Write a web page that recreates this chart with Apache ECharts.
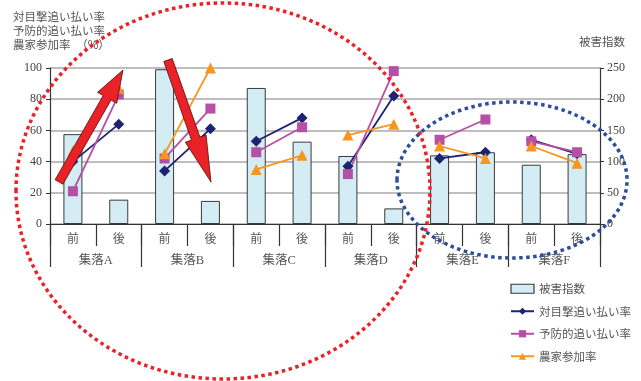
<!DOCTYPE html>
<html>
<head>
<meta charset="utf-8">
<script src="https://cdn.jsdelivr.net/npm/echarts@6/dist/echarts.min.js"></script>
<style>
  html, body { margin: 0; padding: 0; background: #fff; }
  #chart { width: 641px; height: 381px; }
</style>
</head>
<body>
<div id="chart"></div>
<script>
// Before/after pairs for each village
const categories = ['前', '後', '前', '後', '前', '後', '前', '後', '前', '後', '前', '後'];
const villages = ['集落A', '集落B', '集落C', '集落D', '集落E', '集落F'];

// Damage index (right axis, 0-250)
const damageIndex = [144, 39, 248, 37, 218, 132, 109, 25, 110, 115, 95, 112];
// Rates in % (left axis, 0-100)
const sightingRate = [40, 64, 34, 61, 53, 68, 37, 82, 42, 46, 54, 45];
const preventiveRate = [21, 83, 42, 74, 46, 62, 32, 98, 54, 67, 53, 46];
const participationRate = [47, 87, 45, 100, 35, 44, 57, 64, 50, 42, 50, 39];

const leftTicks = [0, 20, 40, 60, 80, 100];
const rightTicks = [0, 50, 100, 150, 200, 250];

const FONT = '"Liberation Serif", "Noto Sans CJK JP", serif';
const TEXT = '#555';
const AXIS = '#333';

const rateSeries = [
  { name: '対目撃追い払い率', values: sightingRate, color: '#1f2272', symbol: 'diamond', size: 11 },
  { name: '予防的追い払い率', values: preventiveRate, color: '#b64fa6', symbol: 'rect', size: 10 },
  { name: '農家参加率', values: participationRate, color: '#f7961c', symbol: 'triangle', size: 11 }
];

// one short segment per village so the before/after pairs stay separate
const series = [{
  name: '被害指数',
  type: 'bar',
  yAxisIndex: 1,
  barWidth: 19,
  data: damageIndex,
  itemStyle: { color: '#d4ecf3', borderColor: '#3a3a3a', borderWidth: 1 },
  z: 2
}];
rateSeries.forEach(function (s) {
  villages.forEach(function (v, i) {
    const data = categories.map(function (c, k) {
      return (k === 2 * i || k === 2 * i + 1) ? s.values[k] : null;
    });
    series.push({
      name: s.name,
      type: 'line',
      yAxisIndex: 0,
      data: data,
      symbol: s.symbol,
      symbolSize: s.size,
      connectNulls: false,
      lineStyle: { color: s.color, width: 1.8 },
      itemStyle: { color: s.color },
      z: 3
    });
  });
});

// filled arrow outline from tail to tip
function arrowPoints(x0, y0, x1, y1, shaftHalf, headHalf, headLen) {
  const dx = x1 - x0, dy = y1 - y0;
  const len = Math.sqrt(dx * dx + dy * dy);
  const ux = dx / len, uy = dy / len;
  const nx = -uy, ny = ux;
  const bx = x1 - ux * headLen, by = y1 - uy * headLen;
  return [
    [x0 + nx * shaftHalf, y0 + ny * shaftHalf],
    [bx + nx * shaftHalf, by + ny * shaftHalf],
    [bx + nx * headHalf, by + ny * headHalf],
    [x1, y1],
    [bx - nx * headHalf, by - ny * headHalf],
    [bx - nx * shaftHalf, by - ny * shaftHalf],
    [x0 - nx * shaftHalf, y0 - ny * shaftHalf]
  ];
}

const chart = echarts.init(document.getElementById('chart'), null, { renderer: 'canvas' });
chart.setOption({
  animation: false,
  backgroundColor: '#fff',
  textStyle: { fontFamily: FONT },
  grid: { left: 50, right: 41, top: 68, bottom: 157 },
  legend: {
    orient: 'vertical',
    left: 505,
    top: 278,
    itemWidth: 23,
    itemHeight: 9,
    itemGap: 11,
    data: [
      { name: '被害指数', icon: 'rect', itemStyle: { color: '#d4ecf3', borderColor: '#3a3a3a', borderWidth: 1.2 } },
      '対目撃追い払い率', '予防的追い払い率', '農家参加率'
    ],
    textStyle: { color: TEXT, fontSize: 11.5, fontFamily: '"Noto Sans CJK JP", sans-serif' }
  },
  xAxis: [
    {
      type: 'category',
      position: 'bottom',
      data: categories,
      boundaryGap: true,
      axisLine: { show: true, lineStyle: { color: AXIS, width: 1.2 } },
      axisTick: { show: true, interval: 0, length: 22, lineStyle: { color: AXIS, width: 1.2 } },
      axisLabel: { interval: 0, margin: 8, color: TEXT, fontSize: 12, fontFamily: '"Noto Sans CJK JP", sans-serif' }
    },
    {
      type: 'category',
      position: 'bottom',
      data: villages,
      boundaryGap: true,
      axisLine: { show: false },
      axisTick: { show: true, interval: 0, length: 43, lineStyle: { color: AXIS, width: 1.2 } },
      axisLabel: { interval: 0, margin: 30, color: TEXT, fontSize: 12.5, fontFamily: FONT }
    }
  ],
  yAxis: [
    {
      type: 'value',
      min: leftTicks[0],
      max: leftTicks[leftTicks.length - 1],
      interval: 20,
      axisLine: { show: true, lineStyle: { color: AXIS, width: 1.2 } },
      axisTick: { show: true, length: 4, lineStyle: { color: AXIS } },
      axisLabel: { color: '#444', fontSize: 12, margin: 8, fontFamily: '"Liberation Serif", serif' },
      splitLine: { show: true, lineStyle: { color: '#a8a8a8', width: 1.6 } }
    },
    {
      type: 'value',
      min: rightTicks[0],
      max: rightTicks[rightTicks.length - 1],
      interval: 50,
      axisLine: { show: true, lineStyle: { color: AXIS, width: 1.2 } },
      axisTick: { show: true, length: 4, lineStyle: { color: AXIS } },
      axisLabel: { color: '#444', fontSize: 12, margin: 7, fontFamily: '"Liberation Serif", serif' },
      splitLine: { show: false }
    }
  ],
  series: series,
  graphic: [
    { type: 'text', left: 13, top: 11, style: { text: '対目撃追い払い率', fill: TEXT, font: '11.5px "Noto Sans CJK JP", sans-serif' } },
    { type: 'text', left: 13, top: 25, style: { text: '予防的追い払い率', fill: TEXT, font: '11.5px "Noto Sans CJK JP", sans-serif' } },
    { type: 'text', left: 13, top: 39, style: { text: '農家参加率　（%）', fill: TEXT, font: '11.5px "Noto Sans CJK JP", sans-serif' } },
    { type: 'text', right: 16, top: 36, style: { text: '被害指数', fill: TEXT, font: '11.5px "Noto Sans CJK JP", sans-serif' } },
    // highlight rings
    { type: 'ellipse', z: 100, shape: { cx: 512, cy: 180, rx: 115, ry: 78 },
      style: { fill: 'none', stroke: '#2c4c9c', lineWidth: 3.5, lineDash: [3.5, 3.5] } },
    { type: 'ellipse', z: 101, shape: { cx: 223, cy: 191, rx: 207, ry: 188 },
      style: { fill: 'none', stroke: '#ec2027', lineWidth: 3.5, lineDash: [3.5, 3.5] } },
    // trend arrows
    { type: 'polygon', z: 102, shape: { points: arrowPoints(59, 182, 123, 70, 4.5, 11, 32) },
      style: { fill: '#ea2228', stroke: '#4a1010', lineWidth: 0.8 } },
    { type: 'polygon', z: 102, shape: { points: arrowPoints(168, 60, 211, 182, 4.5, 11, 46) },
      style: { fill: '#ea2228', stroke: '#4a1010', lineWidth: 0.8 } }
  ]
});
</script>
</body>
</html>
